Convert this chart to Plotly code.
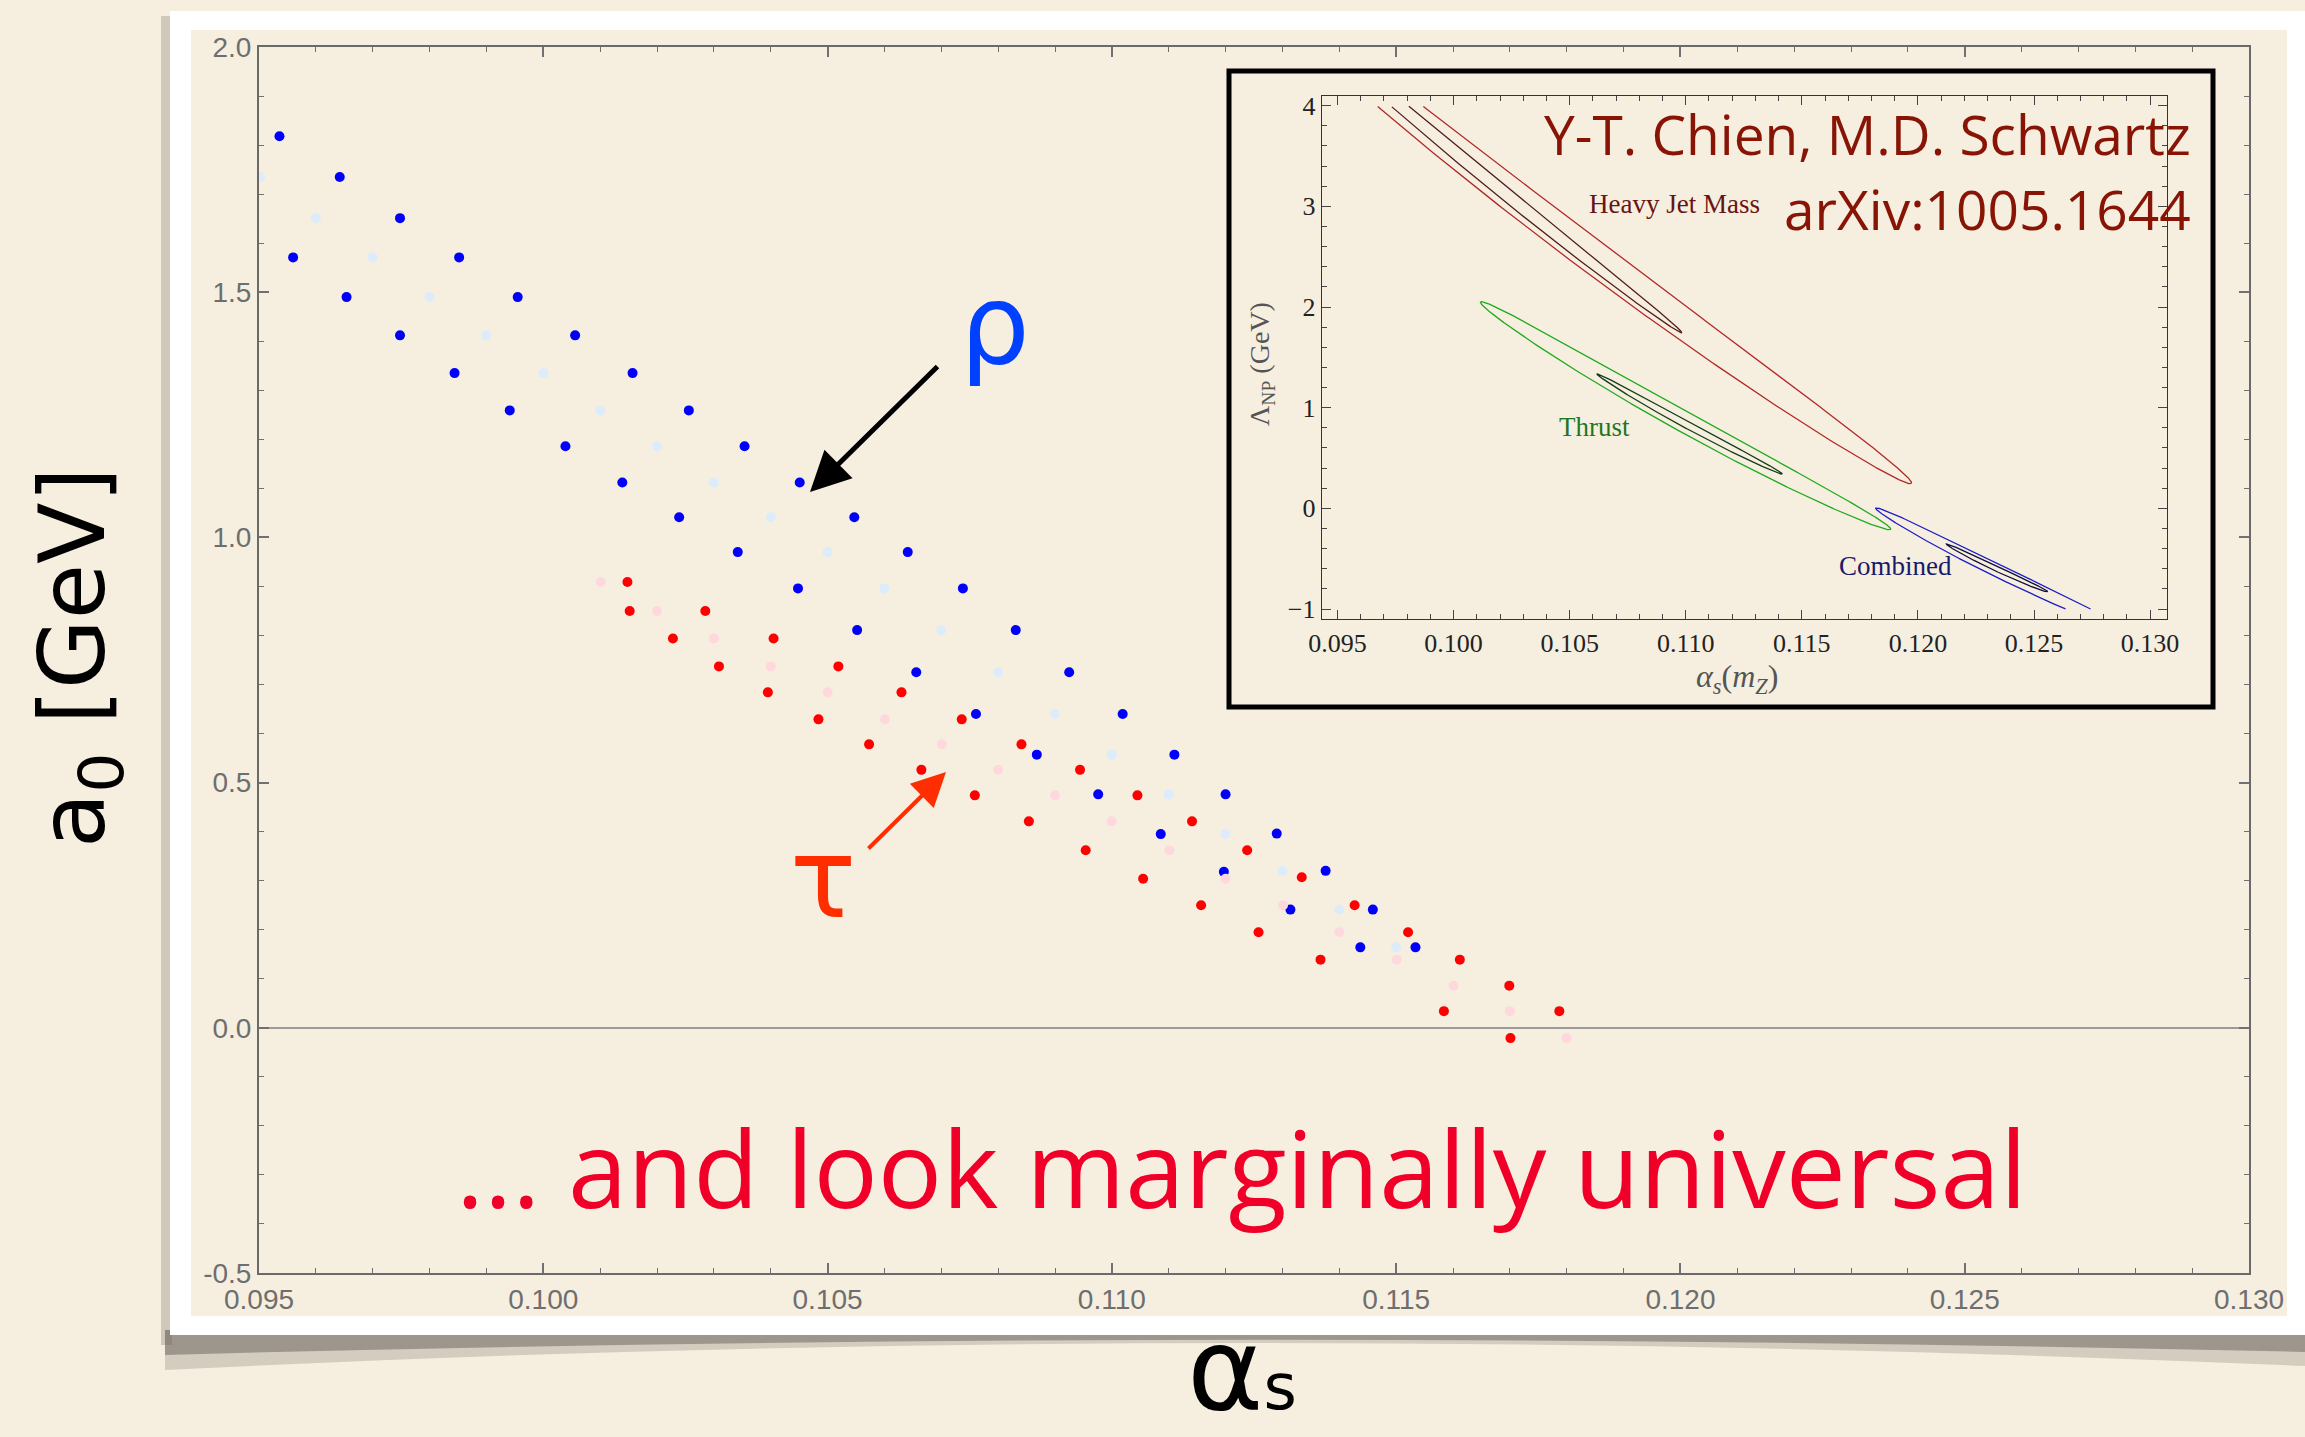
import numpy as np
import plotly.graph_objects as go

W, H = 2305, 1437


def px(X):
    return X / W


def py(Y):
    return 1 - Y / H


# ---------------- main panel: a0 vs alpha_s scan points ----------------
rho_dark_x = [0.09536, 0.09642, 0.09748, 0.09560, 0.09852, 0.09654, 0.09955, 0.09748, 0.10056,
              0.09844, 0.10157, 0.09941, 0.10256, 0.10039, 0.10354, 0.10139, 0.10451, 0.10239,
              0.10547, 0.10342, 0.10641, 0.10448, 0.10738, 0.10552, 0.10831, 0.10656, 0.10925,
              0.10761, 0.11019, 0.10868, 0.11110, 0.10976, 0.11200, 0.11086, 0.11290, 0.11197,
              0.11376, 0.11314, 0.11459, 0.11437, 0.11534]
rho_dark_y = [1.818, 1.735, 1.651, 1.571, 1.571, 1.490, 1.490, 1.412, 1.412,
              1.335, 1.335, 1.259, 1.259, 1.186, 1.186, 1.112, 1.112, 1.041,
              1.041, 0.970, 0.970, 0.896, 0.896, 0.811, 0.811, 0.725, 0.725,
              0.640, 0.640, 0.557, 0.557, 0.476, 0.476, 0.395, 0.396, 0.318,
              0.320, 0.241, 0.241, 0.164, 0.164]

rho_light_x = [0.09502, 0.0960, 0.0970, 0.0980, 0.0990, 0.1000, 0.1010, 0.1020, 0.1030, 0.1040,
               0.1050, 0.1060, 0.1070, 0.1080, 0.1090, 0.1100, 0.1110, 0.1120, 0.1130, 0.1140,
               0.1150]
rho_light_y = [1.735, 1.651, 1.571, 1.490, 1.412, 1.335, 1.259, 1.186, 1.112, 1.041,
               0.970, 0.896, 0.811, 0.725, 0.640, 0.557, 0.476, 0.395, 0.320, 0.241,
               0.164]

tau_dark_x = [0.10148, 0.10152, 0.10285, 0.10228, 0.10405, 0.10309, 0.10519, 0.10395, 0.10630,
              0.10484, 0.10736, 0.10573, 0.10841, 0.10665, 0.10944, 0.10759, 0.11045, 0.10854,
              0.11141, 0.10954, 0.11238, 0.11055, 0.11334, 0.11157, 0.11427, 0.11258, 0.11521,
              0.11367, 0.11612, 0.11699, 0.11584, 0.11787, 0.11701]
tau_dark_y = [0.909, 0.850, 0.850, 0.794, 0.794, 0.737, 0.737, 0.684, 0.684,
              0.629, 0.629, 0.578, 0.578, 0.526, 0.526, 0.474, 0.474, 0.421,
              0.421, 0.362, 0.362, 0.304, 0.307, 0.250, 0.250, 0.195, 0.195,
              0.139, 0.139, 0.086, 0.034, 0.034, -0.021]

tau_light_x = [0.10101, 0.10200, 0.10300, 0.10400, 0.10500, 0.10601, 0.10701, 0.10800, 0.10900,
               0.11000, 0.11101, 0.11200, 0.11301, 0.11400, 0.11501, 0.11601, 0.11700, 0.11800]
tau_light_y = [0.909, 0.850, 0.794, 0.737, 0.684, 0.629, 0.578, 0.526, 0.474,
               0.421, 0.362, 0.304, 0.250, 0.195, 0.139, 0.086, 0.034, -0.021]

main_xticks = [0.095, 0.100, 0.105, 0.110, 0.115, 0.120, 0.125, 0.130]
main_yticks = [-0.5, 0.0, 0.5, 1.0, 1.5, 2.0]

# ---------------- inset: Lambda_NP vs alpha_s(mZ) contours ----------------
# each contour: lower-right tip, upper-left tip (alpha_s, Lambda_NP), half width [px], sag [px]
hjm_outer = [(0.11972, 0.248), (0.09059, 5.345), 16.5, 12.0]
hjm_inner = [(0.10983, 1.744), (0.09272, 4.991), 6.3, 5.0]
thrust_outer = [(0.11883, -0.209), (0.10116, 2.049), 10.5, 6.0]
thrust_inner = [(0.11416, 0.341), (0.10618, 1.334), 3.5, 2.0]
comb_outer = [(0.12919, -1.231), (0.11818, 0.003), 6.5, 3.0]
comb_inner = [(0.12559, -0.828), (0.12122, -0.354), 2.5, 1.0]

inset_xticks = [0.095, 0.100, 0.105, 0.110, 0.115, 0.120, 0.125, 0.130]
inset_yticks = [-1, 0, 1, 2, 3, 4]

SX = 23260.0   # inset px per unit alpha_s
SY = 100.7     # inset px per GeV


def contour_outline(spec, y_lo=-1.0, y_hi=4.0, n=700):
    (xa, ya), (xb, yb), b, sag = spec
    ax_, ay_ = xa * SX, ya * SY
    bx_, by_ = xb * SX, yb * SY
    cx, cy = (ax_ + bx_) / 2, (ay_ + by_) / 2
    L = np.hypot(bx_ - ax_, by_ - ay_)
    a = L / 2
    ux, uy = (bx_ - ax_) / L, (by_ - ay_) / L
    vx, vy = -uy, ux          # points towards lower left
    th = np.linspace(np.pi, 3 * np.pi, n)
    s = a * np.cos(th)
    t = b * np.sin(th) + sag * (1 - (s / a) ** 2)
    X = cx + s * ux + t * vx
    Y = cy + s * uy + t * vy
    xs, ys = [], []
    for xv, yv in zip(X / SX, Y / SY):
        if y_lo <= yv <= y_hi:
            xs.append(xv)
            ys.append(yv)
        else:
            xs.append(None)
            ys.append(None)
    return xs, ys


fig = go.Figure()

# scan points
for xs, ys, col in [(rho_dark_x, rho_dark_y, "rgb(0,0,250)"),
                    (rho_light_x, rho_light_y, "rgb(220,236,250)"),
                    (tau_dark_x, tau_dark_y, "rgb(255,0,0)"),
                    (tau_light_x, tau_light_y, "rgb(255,216,222)")]:
    fig.add_trace(go.Scatter(x=xs, y=ys, mode="markers", xaxis="x", yaxis="y",
                             marker=dict(size=10, color=col, line=dict(width=0)),
                             hoverinfo="skip", showlegend=False))

# inset contours
for spec, col, lw in [(hjm_outer, "rgb(178,40,40)", 1.3),
                      (hjm_inner, "rgb(80,30,30)", 1.3),
                      (thrust_outer, "rgb(30,170,30)", 1.3),
                      (thrust_inner, "rgb(20,60,20)", 1.3),
                      (comb_outer, "rgb(30,30,200)", 1.3),
                      (comb_inner, "rgb(15,15,60)", 1.3)]:
    cxs, cys = contour_outline(spec)
    fig.add_trace(go.Scatter(x=cxs, y=cys, mode="lines", xaxis="x2", yaxis="y2",
                             line=dict(color=col, width=lw), connectgaps=False,
                             hoverinfo="skip", showlegend=False))

BG = "rgb(246,239,224)"


def P(X, Y):
    return f"{px(X):.5f},{py(Y):.5f}"


shapes = []
# left shadow of the photo frame
shapes.append(dict(type="rect", xref="paper", yref="paper", layer="below",
                   x0=px(161), x1=px(172), y0=py(1345), y1=py(16),
                   fillcolor="rgba(120,110,100,0.30)", line=dict(width=0)))
# curled bottom shadow
shapes.append(dict(type="path", xref="paper", yref="paper", layer="below",
                   path=f"M {P(165,1330)} L {P(2305,1330)} L {P(2305,1366)} Q {P(1200,1318)} {P(165,1370)} Z",
                   fillcolor="rgba(150,140,130,0.35)", line=dict(width=0)))
shapes.append(dict(type="path", xref="paper", yref="paper", layer="below",
                   path=f"M {P(165,1330)} L {P(2305,1330)} L {P(2305,1352)} Q {P(1200,1326)} {P(165,1355)} Z",
                   fillcolor="rgba(90,85,80,0.45)", line=dict(width=0)))
# white photo frame
shapes.append(dict(type="rect", xref="paper", yref="paper", layer="below",
                   x0=px(170), x1=px(2310), y0=py(1335), y1=py(11),
                   fillcolor="white", line=dict(width=0)))
# plot card
shapes.append(dict(type="rect", xref="paper", yref="paper", layer="below",
                   x0=px(191), x1=px(2287), y0=py(1316), y1=py(30),
                   fillcolor=BG, line=dict(width=0)))
# inset box
shapes.append(dict(type="rect", xref="paper", yref="paper", layer="below",
                   x0=px(1229), x1=px(2213), y0=py(707), y1=py(71),
                   fillcolor=BG, line=dict(color="black", width=5)))

annotations = []
# axis titles of main panel
annotations.append(dict(text="a<sub>0</sub> [GeV]", x=px(79), y=py(658), xref="paper", yref="paper",
                        textangle=-90, showarrow=False, xanchor="center", yanchor="middle",
                        font=dict(family="DejaVu Sans", size=90, color="black")))
annotations.append(dict(text="α<span style='font-size:64px'>s</span>", x=px(1242), y=py(1368),
                        xref="paper", yref="paper",
                        showarrow=False, xanchor="center", yanchor="middle",
                        font=dict(family="DejaVu Sans", size=116, color="black")))
# rho / tau labels and arrows
annotations.append(dict(text="ρ", x=px(995), y=py(325), xref="paper", yref="paper",
                        showarrow=False, xanchor="center", yanchor="middle",
                        font=dict(family="DejaVu Sans", size=110, color="rgb(0,64,255)")))
annotations.append(dict(text="τ", x=px(823), y=py(879), xref="paper", yref="paper",
                        showarrow=False, xanchor="center", yanchor="middle",
                        font=dict(family="DejaVu Sans", size=110, color="rgb(255,45,0)")))
annotations.append(dict(text="", x=px(810), y=py(492), xref="paper", yref="paper",
                        ax=129, ay=-127, axref="pixel", ayref="pixel", showarrow=True,
                        arrowhead=2, arrowsize=1.6, arrowwidth=5, arrowcolor="black"))
annotations.append(dict(text="", x=px(946), y=py(772), xref="paper", yref="paper",
                        ax=-79, ay=78, axref="pixel", ayref="pixel", showarrow=True,
                        arrowhead=2, arrowsize=1.7, arrowwidth=4, arrowcolor="rgb(255,45,0)"))
# slogan
annotations.append(dict(text="... and look marginally universal", x=px(1241), y=py(1166),
                        xref="paper", yref="paper", showarrow=False, xanchor="center", yanchor="middle",
                        font=dict(family="Open Sans", size=107, color="rgb(240,0,40)")))
# inset citation
annotations.append(dict(text="Y-T. Chien, M.D. Schwartz", x=px(2192), y=py(134), xref="paper", yref="paper",
                        showarrow=False, xanchor="right", yanchor="middle", borderpad=0,
                        font=dict(family="Open Sans", size=55, color="rgb(135,20,5)")))
annotations.append(dict(text="arXiv:1005.1644", x=px(2192), y=py(209), xref="paper", yref="paper",
                        showarrow=False, xanchor="right", yanchor="middle", borderpad=0,
                        font=dict(family="Open Sans", size=55, color="rgb(135,20,5)")))
# inset curve labels
for txt, X, Y, col in [("Heavy Jet Mass", 1674, 204, "rgb(105,20,20)"),
                       ("Thrust", 1594, 427, "rgb(30,120,30)"),
                       ("Combined", 1895, 566, "rgb(25,25,110)")]:
    annotations.append(dict(text=txt, x=px(X), y=py(Y), xref="paper", yref="paper",
                            showarrow=False, xanchor="center", yanchor="middle",
                            font=dict(family="Liberation Serif", size=27, color=col)))
# inset axis titles
annotations.append(dict(text="Λ<sub>NP</sub> (GeV)", x=px(1261), y=py(364), xref="paper", yref="paper",
                        textangle=-90, showarrow=False, xanchor="center", yanchor="middle",
                        font=dict(family="Liberation Serif", size=28, color="#555555")))
annotations.append(dict(text="<i>α</i><sub><i>s</i></sub>(<i>m</i><sub><i>Z</i></sub>)",
                        x=px(1737), y=py(678), xref="paper", yref="paper",
                        showarrow=False, xanchor="center", yanchor="middle",
                        font=dict(family="Liberation Serif", size=32, color="#555555")))

main_tickfont = dict(family="Liberation Sans", size=28, color="#6e6e6e")
inset_tickfont = dict(family="Liberation Serif", size=26, color="#222222")

fig.update_layout(
    width=W, height=H,
    margin=dict(l=0, r=0, t=0, b=0, autoexpand=False),
    paper_bgcolor=BG,
    plot_bgcolor="rgba(0,0,0,0)",
    shapes=shapes,
    annotations=annotations,
    xaxis=dict(domain=[px(259), px(2249)], range=[0.095, 0.130], anchor="y", automargin=False,
               tickvals=main_xticks, ticktext=[f"{v:.3f}" for v in main_xticks],
               ticks="inside", ticklen=10, tickwidth=1.5, tickcolor="#707070",
               showline=True, linecolor="#6a6a6a", linewidth=2, mirror="ticks",
               showgrid=False, zeroline=False, tickfont=main_tickfont,
               minor=dict(dtick=0.001, tick0=0.095, ticks="inside", ticklen=5, tickwidth=1,
                          tickcolor="#707070", showgrid=False)),
    yaxis=dict(domain=[py(1273), py(47)], range=[-0.5, 2.0], anchor="x", automargin=False,
               tickvals=main_yticks, ticktext=[f"{v:.1f}" for v in main_yticks],
               ticks="inside", ticklen=10, tickwidth=1.5, tickcolor="#707070",
               showline=True, linecolor="#6a6a6a", linewidth=2, mirror="ticks",
               showgrid=False, zeroline=True, zerolinecolor="#9a9a9a", zerolinewidth=1.5,
               tickfont=main_tickfont,
               minor=dict(dtick=0.1, tick0=0, ticks="inside", ticklen=5, tickwidth=1,
                          tickcolor="#707070", showgrid=False)),
    xaxis2=dict(domain=[px(1321.7), px(2167.3)], range=[0.09432, 0.13074], anchor="y2", automargin=False,
                tickvals=inset_xticks, ticktext=[f"{v:.3f}" for v in inset_xticks],
                ticks="inside", ticklen=9, tickwidth=1, tickcolor="#444444",
                showline=True, linecolor="#333333", linewidth=1.2, mirror="ticks",
                showgrid=False, zeroline=False, tickfont=inset_tickfont,
                minor=dict(dtick=0.001, tick0=0.095, ticks="inside", ticklen=5, tickwidth=1,
                           tickcolor="#444444", showgrid=False)),
    yaxis2=dict(domain=[py(619.3), py(96)], range=[-1.102, 4.096], anchor="x2", automargin=False,
                tickvals=inset_yticks, ticktext=[str(v) if v >= 0 else "\u2212" + str(-v) for v in inset_yticks],
                ticks="inside", ticklen=9, tickwidth=1, tickcolor="#444444",
                showline=True, linecolor="#333333", linewidth=1.2, mirror="ticks",
                showgrid=False, zeroline=False, tickfont=inset_tickfont,
                minor=dict(dtick=0.2, tick0=0, ticks="inside", ticklen=5, tickwidth=1,
                           tickcolor="#444444", showgrid=False)),
)

fig.write_html("out.html")
